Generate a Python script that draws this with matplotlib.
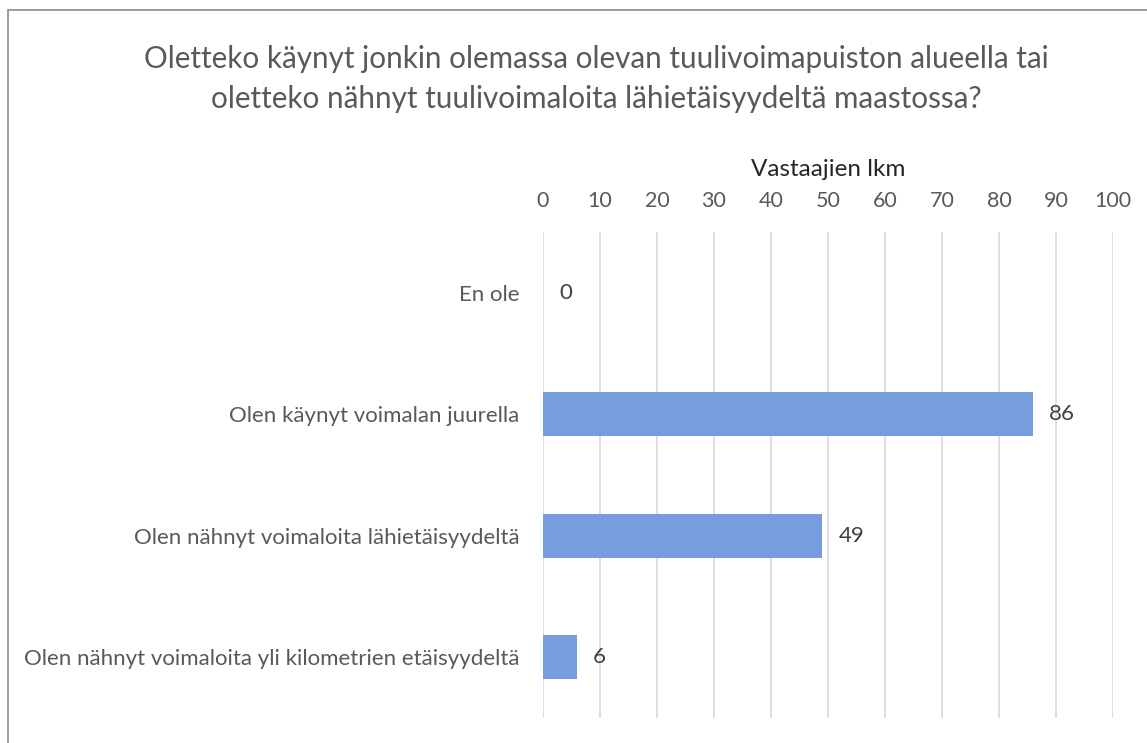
import matplotlib.pyplot as plt
from matplotlib.patches import Rectangle

plt.rcParams['font.family'] = ['Lato', 'DejaVu Sans']

# Data
categories = [
    "En ole",
    "Olen käynyt voimalan juurella",
    "Olen nähnyt voimaloita lähietäisyydeltä",
    "Olen nähnyt voimaloita yli kilometrien etäisyydeltä",
]
counts = [0, 86, 49, 6]
ticks = list(range(0, 101, 10))

fig = plt.figure(figsize=(11.47, 7.43), dpi=100)
ax = fig.add_axes([543 / 1147, 1 - 718 / 743, (1113 - 543) / 1147, (718 - 232) / 743])

ypos = list(range(len(categories)))
ax.barh(ypos, counts, height=0.36, color="#779ddf", zorder=2)
ax.set_ylim(len(categories) - 0.5, -0.5)
ax.set_xlim(0, 100)

for y, v in zip(ypos, counts):
    ax.annotate(str(v), (v, y), xytext=(11.5, 0), textcoords="offset points",
                va="center", ha="left", fontsize=16, color="#404040")

ax.set_xticks(ticks)
ax.xaxis.tick_top()
ax.xaxis.set_label_position("top")
ax.tick_params(axis="x", length=0, labelsize=15.5, labelcolor="#595959", pad=15)
ax.set_xlabel("Vastaajien lkm", fontsize=17.5, color="#262626", labelpad=11)
ax.set_yticks(ypos)
ax.set_yticklabels(categories)
ax.tick_params(axis="y", length=0, labelsize=16, labelcolor="#595959", pad=17)
ax.grid(axis="x", color="#d9d9d9", linewidth=1.2, zorder=0)
for s in ax.spines.values():
    s.set_visible(False)

fig.text(596 / 1147, 1 - 79 / 743,
         "Oletteko käynyt jonkin olemassa olevan tuulivoimapuiston alueella tai\n"
         "oletteko nähnyt tuulivoimaloita lähietäisyydeltä maastossa?",
         ha="center", va="center", fontsize=21.3, color="#595959", linespacing=1.55)

# chart area border (cropped at right and bottom)
fig.patches.append(Rectangle((8 / 1147, -0.1), 1.2, 1.1 - 10 / 743,
                             transform=fig.transFigure, fill=False,
                             edgecolor="#8c8c8c", linewidth=1.2))

fig.savefig("out.png", dpi=100)
